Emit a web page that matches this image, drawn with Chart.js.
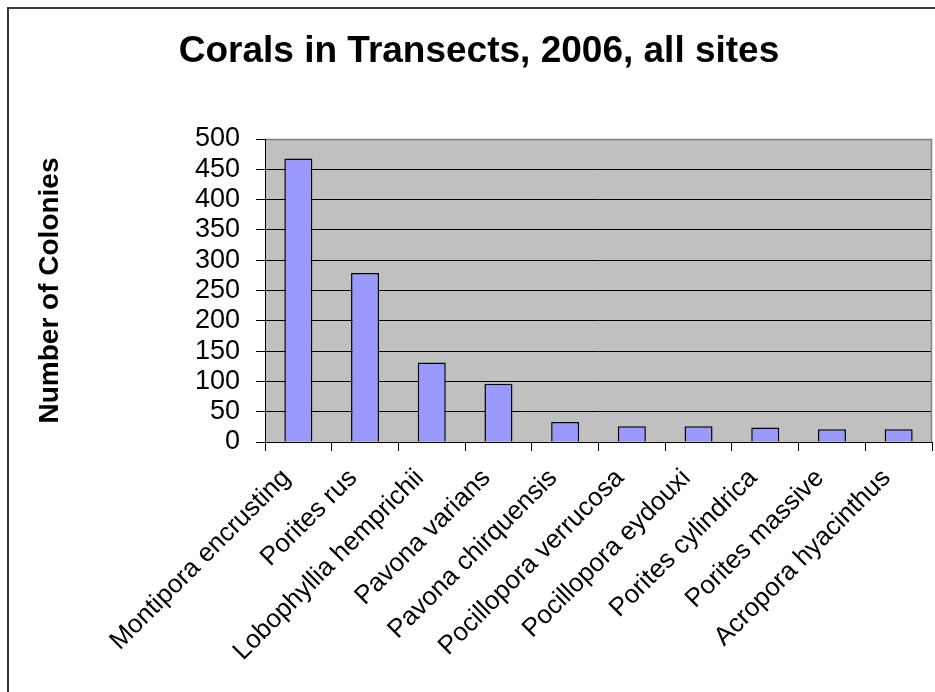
<!DOCTYPE html>
<html>
<head>
<meta charset="utf-8">
<title>Corals in Transects, 2006, all sites</title>
<script src="https://cdn.jsdelivr.net/npm/chart.js@4/dist/chart.umd.min.js"></script>
<style>
  html, body { margin: 0; padding: 0; background: #ffffff; }
  #wrap { position: relative; width: 935px; height: 692px; }
</style>
</head>
<body>
<div id="wrap"><canvas id="chart" width="935" height="692"></canvas></div>
<script>
// Coral species counted in the 2006 transects (all sites combined)
const species = [
  'Montipora encrusting',
  'Porites rus',
  'Lobophyllia hemprichii',
  'Pavona varians',
  'Pavona chirquensis',
  'Pocillopora verrucosa',
  'Pocillopora eydouxi',
  'Porites cylindrica',
  'Porites massive',
  'Acropora hyacinthus'
];
const colonies = [468, 279, 131, 96, 33, 26, 26, 24, 21, 21];

const yMin = 0;
const yMax = 500;
const yStep = 50;

const FONT = '"Liberation Sans", Arial, Helvetica, sans-serif';

// Grey plot background, plot frame and the outer chart frame
const frames = {
  id: 'frames',
  beforeDraw(chart) {
    const { ctx, chartArea: a } = chart;
    ctx.save();
    ctx.fillStyle = '#c0c0c0';
    ctx.fillRect(a.left, a.top, a.right - a.left, a.bottom - a.top);
    ctx.strokeStyle = '#3a3a3a';
    ctx.lineWidth = 2;
    ctx.strokeRect(8, 8, chart.width + 20, chart.height + 20);
    ctx.restore();
  },
  afterDatasetsDraw(chart) {
    const { ctx, chartArea: a } = chart;
    ctx.save();
    ctx.strokeStyle = '#808080';
    ctx.lineWidth = 1.5;
    ctx.beginPath();
    ctx.moveTo(a.left, a.top + 0.5);
    ctx.lineTo(a.right - 0.5, a.top + 0.5);
    ctx.lineTo(a.right - 0.5, a.bottom);
    ctx.stroke();
    ctx.strokeStyle = '#000000';
    ctx.lineWidth = 1;
    ctx.beginPath();
    ctx.moveTo(a.left + 0.5, a.top);
    ctx.lineTo(a.left + 0.5, a.bottom + 0.5);
    ctx.lineTo(a.right, a.bottom + 0.5);
    ctx.stroke();
    ctx.restore();
  }
};

new Chart(document.getElementById('chart'), {
  type: 'bar',
  data: {
    labels: species,
    datasets: [{
      label: 'Number of Colonies',
      data: colonies,
      backgroundColor: '#9999ff',
      borderColor: '#000000',
      borderWidth: 1.5,
      barPercentage: 0.42,
      categoryPercentage: 1.0
    }]
  },
  options: {
    responsive: false,
    animation: false,
    layout: { padding: { left: 26, right: 3, top: 0, bottom: 0 } },
    plugins: {
      legend: { display: false },
      tooltip: { enabled: false },
      title: {
        display: true,
        text: 'Corals in Transects, 2006, all sites',
        color: '#000000',
        font: { family: FONT, size: 37, weight: 'bold' },
        padding: { top: 30, bottom: 64.6 }
      }
    },
    scales: {
      x: {
        offset: true,
        border: { display: false },
        grid: {
          offset: true,
          drawOnChartArea: false,
          drawTicks: true,
          tickLength: 9,
          color: '#000000'
        },
        ticks: {
          color: '#000000',
          font: { family: FONT, size: 26 },
          minRotation: 45,
          maxRotation: 45,
          autoSkip: false,
          padding: 12,
          labelOffset: -12
        },
        afterFit(scale) { scale.height = 250; }
      },
      y: {
        min: yMin,
        max: yMax,
        border: { display: false },
        grid: {
          color: (c) => (c.tick && c.tick.value === yMax) ? '#808080' : '#000000',
          lineWidth: 1,
          tickLength: 9,
          drawTicks: true,
          tickColor: '#000000'
        },
        ticks: {
          stepSize: yStep,
          autoSkip: false,
          color: '#000000',
          font: { family: FONT, size: 27 },
          padding: 16
        },
        title: {
          display: true,
          text: 'Number of Colonies',
          color: '#000000',
          font: { family: FONT, size: 28, weight: 'bold' },
          padding: { top: 7, bottom: 0 }
        },
        afterFit(scale) { scale.width = 239; }
      }
    }
  },
  plugins: [frames]
});
</script>
</body>
</html>
